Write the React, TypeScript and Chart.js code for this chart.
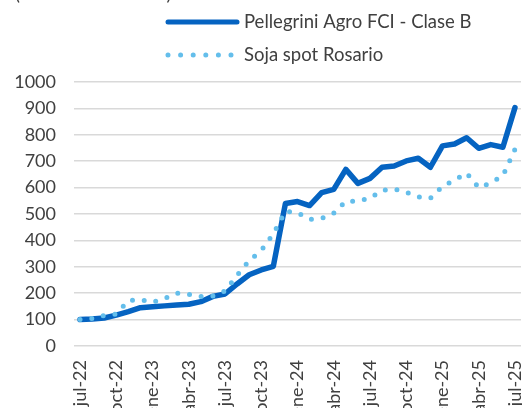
import React, { useEffect, useRef } from "react";
import { Chart, registerables } from "chart.js";

Chart.register(...registerables);

const MONTHS = ["jul", "ago", "sep", "oct", "nov", "dic", "ene", "feb", "mar", "abr", "may", "jun"];
const START_YEAR = 22;
const N_POINTS = 37;

const categories: string[] = [];
for (let i = 0; i < N_POINTS; i++) {
  const yr = START_YEAR + Math.floor((i + 6) / 12);
  categories.push(`${MONTHS[i % 12]}-${yr}`);
}

const pellegrini = [
  100, 102, 106, 117, 130, 145, 149, 152, 155, 158, 168, 188, 197,
  235, 270, 288, 302, 540, 547, 532, 581, 593, 669, 616, 635,
  677, 682, 701, 711, 677, 758, 765, 789, 749, 763, 753, 903,
];

const soja = [
  100, 104, 116, 121, 172, 175, 166, 180, 200, 196, 187, 189, 208,
  268, 323, 362, 425, 510, 505, 480, 483, 503, 548, 549, 560,
  590, 595, 582, 565, 560, 605, 628, 655, 600, 618, 645, 745,
];

const seriesNames = ["Pellegrini Agro FCI - Clase B", "Soja spot Rosario"];
const yTicks = [0, 100, 200, 300, 400, 500, 600, 700, 800, 900, 1000];
const subtitle = "(Base 100 = Jul-22)";

const SOLID = "#0563C1";
const DOT = "#64BEEB";
const TEXT = "#404040";
const FONT = "Lato";

const legendPlugin = {
  id: "customLegend",
  afterDraw(chart: any) {
    const ctx = chart.ctx;
    ctx.save();
    ctx.font = `18.5px ${FONT}`;
    ctx.fillStyle = TEXT;
    ctx.textBaseline = "alphabetic";
    ctx.textAlign = "left";
    ctx.fillText(subtitle, 15, 0);

    ctx.textBaseline = "middle";
    // row 1
    ctx.strokeStyle = SOLID;
    ctx.lineWidth = 5;
    ctx.lineCap = "round";
    ctx.beginPath();
    ctx.moveTo(168, 22);
    ctx.lineTo(237, 22);
    ctx.stroke();
    ctx.fillText(chart.data.datasets[0].label, 244, 22);
    // row 2
    ctx.strokeStyle = DOT;
    ctx.lineWidth = 5;
    ctx.setLineDash([0, 12.6]);
    ctx.beginPath();
    ctx.moveTo(168, 55);
    ctx.lineTo(232, 55);
    ctx.stroke();
    ctx.setLineDash([]);
    ctx.fillText(chart.data.datasets[1].label, 244, 55);
    ctx.restore();
  },
};

export default function App() {
  const ref = useRef<HTMLCanvasElement | null>(null);

  useEffect(() => {
    document.body.style.margin = "0";
    const canvas = ref.current;
    if (!canvas) return;
    const chart = new Chart(canvas, {
      type: "line",
      data: {
        labels: categories,
        datasets: [
          {
            label: seriesNames[0],
            data: pellegrini,
            borderColor: SOLID,
            backgroundColor: SOLID,
            borderWidth: 5.5,
            borderCapStyle: "round",
            borderJoinStyle: "round",
            pointRadius: 0,
            tension: 0,
            order: 1,
          },
          {
            label: seriesNames[1],
            data: soja,
            borderColor: DOT,
            backgroundColor: DOT,
            borderWidth: 5,
            borderDash: [0, 11.8],
            borderCapStyle: "round",
            pointRadius: 0,
            tension: 0,
            order: 0,
          },
        ],
      },
      options: {
        responsive: false,
        animation: false,
        devicePixelRatio: 1,
        layout: { padding: { top: 82, left: 0, right: 1, bottom: 0 } },
        plugins: {
          legend: { display: false },
          tooltip: { enabled: false },
        },
        scales: {
          x: {
            offset: true,
            grid: { display: false, drawTicks: false },
            border: { display: false },
            afterFit: (scale: any) => {
              scale.height = 74;
              scale.paddingLeft = 0;
              scale.paddingRight = 0;
            },
            ticks: {
              autoSkip: false,
              maxRotation: 90,
              minRotation: 90,
              padding: 14,
              color: TEXT,
              font: { family: FONT, size: 18 },
              callback: (_v: any, i: number) => (i % 3 === 0 ? categories[i] : ""),
            },
          },
          y: {
            min: 0,
            max: 1000,
            afterFit: (scale: any) => {
              scale.width = 74;
            },
            afterBuildTicks: (scale: any) => {
              scale.ticks = yTicks.map((v) => ({ value: v }));
            },
            grid: { color: "#D9D9D9", lineWidth: 1.6, drawTicks: false },
            border: { display: false },
            ticks: {
              padding: 18,
              color: TEXT,
              font: { family: FONT, size: 18 },
              callback: (v: any) => String(v),
            },
          },
        },
      },
      plugins: [legendPlugin],
    });
    return () => chart.destroy();
  }, []);

  return (
    <div style={{ position: "relative", width: 522, height: 408, overflow: "hidden" }}>
      <canvas ref={ref} width={522} height={420} style={{ display: "block" }} />
    </div>
  );
}
